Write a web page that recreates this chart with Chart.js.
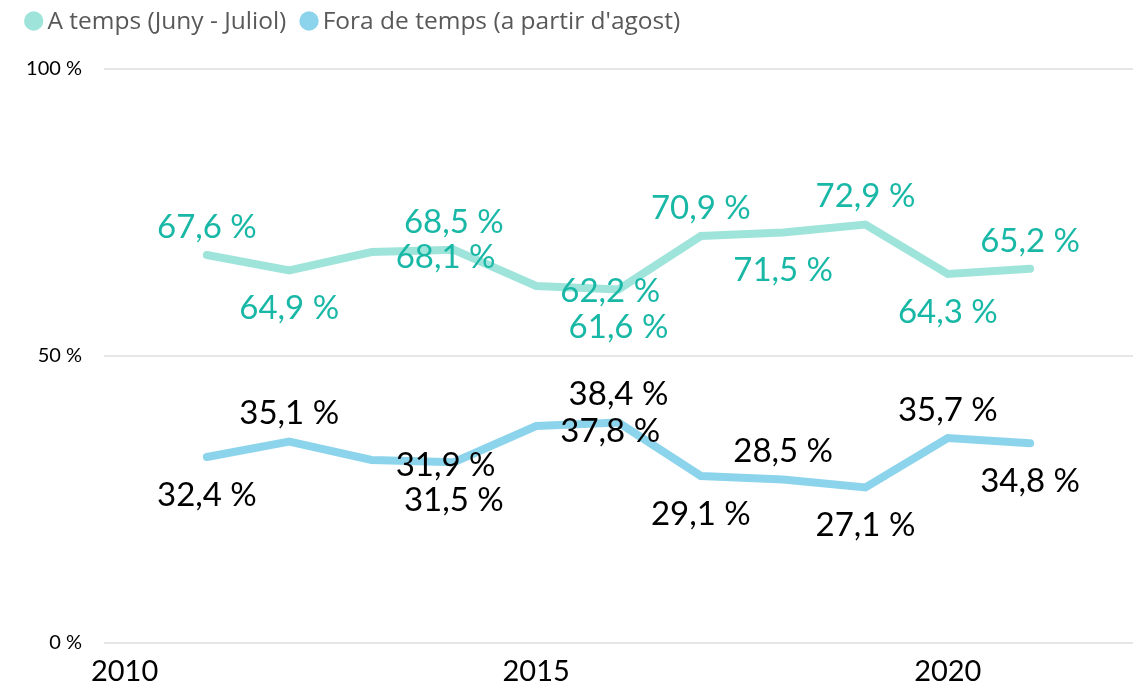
<!DOCTYPE html>
<html>
<head>
<meta charset="utf-8">
<script src="https://cdn.jsdelivr.net/npm/chart.js@4/dist/chart.umd.min.js"></script>
<style>
html,body{margin:0;padding:0;background:#fff;}
#wrap{width:1143px;height:691px;position:relative;}
</style>
</head>
<body>
<div id="wrap"><canvas id="c" width="1143" height="691"></canvas></div>
<script>
// ---- data ----
const years = [2011, 2012, 2013, 2014, 2015, 2016, 2017, 2018, 2019, 2020, 2021];
const aTemps = [67.6, 64.9, 68.1, 68.5, 62.2, 61.6, 70.9, 71.5, 72.9, 64.3, 65.2];
const foraTemps = [32.4, 35.1, 31.9, 31.5, 37.8, 38.4, 29.1, 28.5, 27.1, 35.7, 34.8];
const seriesNames = ['A temps (Juny - Juliol)', "Fora de temps (a partir d'agost)"];
const xTickYears = [2010, 2015, 2020];
const yTickValues = [0, 50, 100];

// ---- label placement (style, not data) ----
const labelPosA = ['above','below','shift','above','shift','below','above','below','above','below','above'];
const labelPosB = ['below','above','shift','below','shift','above','below','above','below','above','below'];

const FONT = 'Lato, "Open Sans", sans-serif';
const LEGEND_FONT = '"Open Sans", Lato, sans-serif';
const lineColA = '#9fe4db';
const lineColB = '#8cd4ec';
const textColA = '#19b8a6';
const textColB = '#000000';

function fmt(v){ return v.toFixed(1).replace('.', ',') + ' %'; }

const dataLabelPlugin = {
  id: 'dataLabelPlugin',
  afterDatasetsDraw(chart) {
    const ctx = chart.ctx;
    const size = 33;
    ctx.save();
    ctx.font = size + 'px ' + FONT;
    ctx.textAlign = 'center';
    ctx.textBaseline = 'alphabetic';
    const capHalf = size * 0.72 / 2;
    chart.data.datasets.forEach((ds, i) => {
      const meta = chart.getDatasetMeta(i);
      ctx.fillStyle = ds.labelColor;
      meta.data.forEach((pt, j) => {
        const pos = ds.labelPositions[j];
        let dx = 0, dy = 0;
        if (pos === 'above') { dy = -29; }
        else if (pos === 'below') { dy = 37; }
        else { dx = 74; dy = 4.5; }
        ctx.fillText(fmt(ds.data[j].y), pt.x + dx, pt.y + dy + capHalf);
      });
    });
    ctx.restore();
  }
};

const legendPlugin = {
  id: 'customLegend',
  afterDraw(chart) {
    const ctx = chart.ctx;
    const size = 24.5;
    ctx.save();
    ctx.font = size + 'px ' + LEGEND_FONT;
    ctx.textBaseline = 'alphabetic';
    ctx.textAlign = 'left';
    let x = 24;
    const cy = 21;
    const r = 9.7;
    chart.data.datasets.forEach((ds) => {
      ctx.beginPath();
      ctx.arc(x + r, cy, r, 0, Math.PI * 2);
      ctx.fillStyle = ds.borderColor;
      ctx.fill();
      const tx = x + 2 * r + 4;
      ctx.fillStyle = '#595959';
      ctx.fillText(ds.label, tx, 29);
      x = tx + ctx.measureText(ds.label).width + 13;
    });
    ctx.restore();
  }
};

const toPoints = (vals) => vals.map((v, i) => ({ x: years[i], y: v }));

new Chart(document.getElementById('c'), {
  type: 'line',
  data: {
    datasets: [
      {
        label: seriesNames[0],
        data: toPoints(aTemps),
        borderColor: lineColA,
        backgroundColor: lineColA,
        borderWidth: 8,
        pointRadius: 0,
        tension: 0,
        borderCapStyle: 'round',
        labelColor: textColA,
        labelPositions: labelPosA
      },
      {
        label: seriesNames[1],
        data: toPoints(foraTemps),
        borderColor: lineColB,
        backgroundColor: lineColB,
        borderWidth: 8,
        pointRadius: 0,
        tension: 0,
        borderCapStyle: 'round',
        labelColor: textColB,
        labelPositions: labelPosB
      }
    ]
  },
  options: {
    responsive: false,
    animation: false,
    devicePixelRatio: 1,
    layout: { padding: { top: 69, right: 10, bottom: 0, left: 0 } },
    plugins: {
      legend: { display: false },
      tooltip: { enabled: false }
    },
    scales: {
      x: {
        type: 'linear',
        min: 2009.75,
        max: 2022.25,
        afterBuildTicks: (s) => { s.ticks = xTickYears.map(v => ({ value: v })); },
        afterFit: (s) => { s.height = 48; },
        grid: { display: false, drawTicks: false },
        border: { display: false },
        ticks: {
          color: '#000',
          padding: 11,
          maxRotation: 0,
          autoSkip: false,
          font: { family: FONT, size: 29 },
          callback: (v) => String(v)
        }
      },
      y: {
        min: 0,
        max: 100,
        afterBuildTicks: (s) => { s.ticks = yTickValues.map(v => ({ value: v })); },
        afterFit: (s) => { s.width = 104; },
        grid: { color: '#e6e6e6', lineWidth: 2, drawTicks: false },
        border: { display: false },
        ticks: {
          color: '#000',
          padding: 22,
          font: { family: FONT, size: 20 },
          callback: (v) => v + ' %'
        }
      }
    }
  },
  plugins: [dataLabelPlugin, legendPlugin]
});
</script>
</body>
</html>
